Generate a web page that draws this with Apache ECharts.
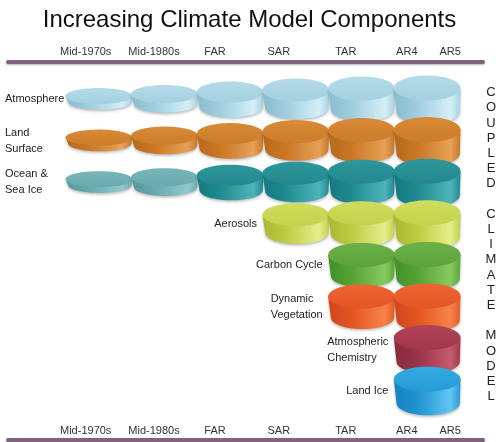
<!DOCTYPE html>
<html><head><meta charset="utf-8">
<script src="https://cdn.jsdelivr.net/npm/echarts@6/dist/echarts.min.js"></script>
<style>html,body{margin:0;padding:0;background:#fff}#c{width:499px;height:442px}</style>
</head><body><div id="c"></div>
<script>
// ---- data ----
const periods = ['Mid-1970s', 'Mid-1980s', 'FAR', 'SAR', 'TAR', 'AR4', 'AR5'];
const periodTicks = [0.30, 1.34, 2.27, 3.24, 4.26, 5.19, 5.85];
const stages = ['Mid-1970s', 'Mid-1980s', 'FAR', 'SAR', 'TAR', 'AR4/AR5'];
const components = ['Atmosphere', 'Land Surface', 'Ocean & Sea Ice', 'Aerosols', 'Carbon Cycle',
  'Dynamic Vegetation', 'Atmospheric Chemistry', 'Land Ice'];
const componentLabels = ['Atmosphere', 'Land\nSurface', 'Ocean &\nSea Ice', 'Aerosols', 'Carbon Cycle',
  'Dynamic\nVegetation', 'Atmospheric\nChemistry', 'Land Ice'];
const componentStart = [0, 0, 0, 3, 4, 4, 5, 5];
const simpleOceanStages = [0, 1];
const sideWords = ['COUPLED', 'CLIMATE', 'MODEL'];
const title = 'Increasing Climate Model Components';

// ---- styles ----
const FONT = '"Liberation Sans", Arial, sans-serif';
const geom = { ry: [8, 9, 10.5, 11.5, 12, 12.5], side: [6, 10, 15, 18, 21, 24], dy: [0, -2, -4, -6, -7.5, -8] };
const palettes = {
  atm:   { top: ['#b4dce8', '#a3d0df'], side: ['#88bccf', '#9fcddd', '#d4eff7', '#a6d2e1'] },
  land:  { top: ['#d98a36', '#cc7c2a'], side: ['#b8681b', '#c97826', '#e7a055', '#c87828'] },
  oceanPale: { top: ['#78b6b8', '#68aaad'], side: ['#559a9e', '#67a9ac', '#8fcacb', '#6aabae'] },
  ocean: { top: ['#2c979c', '#23888e'], side: ['#157a82', '#1f8a90', '#4db5b9', '#22888e'] },
  aer:   { top: ['#d0dc5e', '#c3d24c'], side: ['#a8b832', '#bccb40', '#e6ee8c', '#c2d046'] },
  carbon:{ top: ['#6ab246', '#5aa23a'], side: ['#43902a', '#55a234', '#86ca5f', '#5aa53a'] },
  veg:   { top: ['#ee6632', '#e45524'], side: ['#d2451b', '#e25522', '#f8824a', '#e55a26'] },
  chem:  { top: ['#b04459', '#a1364b'], side: ['#872a3e', '#9a3348', '#c45a6e', '#a03a4e'] },
  ice:   { top: ['#35a9e0', '#259bd6'], side: ['#1583c4', '#1f92d0', '#62c6f2', '#2a9ad6'] }
};
const rowPalette = ['atm', 'land', 'ocean', 'aer', 'carbon', 'veg', 'chem', 'ice'];

function lin(x2, y2, stops) {
  return { type: 'linear', x: 0, y: 0, x2: x2, y2: y2,
    colorStops: stops.map((c, i) => ({ offset: stops.length === 4 ? [0, 0.35, 0.85, 1][i] : i / (stops.length - 1), color: c })) };
}

const cylData = [];
components.forEach((c, r) => {
  for (let s = componentStart[r]; s < stages.length; s++) cylData.push([s, r]);
});
const labelData = components.map((c, r) => [componentStart[r], r]);

function cylGeom(api, s, r) {
  const p0 = api.coord([s, r]), p1 = api.coord([s + 1, r]);
  const cx = (p0[0] + p1[0]) / 2, rx = (p1[0] - p0[0]) / 2 + 0.5;
  const ry = geom.ry[s], side = geom.side[s];
  const cy = p0[1] + geom.dy[s];
  return { left: p0[0], cx, rx, ry, side, cy };
}

function renderCyl(params, api) {
  const s = api.value(0), r = api.value(1);
  const g = cylGeom(api, s, r);
  let key = rowPalette[r];
  if (key === 'ocean' && simpleOceanStages.indexOf(s) >= 0) key = 'oceanPale';
  const pal = palettes[key];
  const rxb = g.rx * 0.95, cxb = g.cx + g.rx * 0.03, cyb = g.cy + g.side, ryb = g.ry * 0.97;
  const N = 40;
  const sidePts = [[g.cx - g.rx, g.cy]];
  for (let i = 0; i <= N; i++) {
    const t = Math.PI * i / N;
    sidePts.push([cxb - rxb * Math.cos(t), cyb + ryb * Math.sin(t)]);
  }
  sidePts.push([g.cx + g.rx, g.cy]);
  const topPts = [];
  for (let i = 0; i < 2 * N; i++) {
    const t = Math.PI * i / N;
    topPts.push([g.cx + g.rx * Math.cos(t), g.cy + g.ry * Math.sin(t)]);
  }
  return {
    type: 'group',
    children: [
      { type: 'polygon', shape: { points: sidePts },
        style: { fill: lin(1, 0, pal.side), shadowBlur: 3, shadowColor: 'rgba(0,0,0,0.28)', shadowOffsetY: 1.5 } },
      { type: 'polygon', shape: { points: topPts }, style: { fill: lin(0, 1, pal.top) } }
    ]
  };
}

const mctx = document.createElement('canvas').getContext('2d');
mctx.font = '11px ' + FONT;
function textWidth(t) { return Math.max.apply(null, t.split('\n').map(l => mctx.measureText(l).width)); }

function renderLabel(params, api) {
  const s = api.value(0), r = api.value(1);
  const g = cylGeom(api, s, r);
  const txt = componentLabels[r];
  const x = s === 0 ? 5 : g.left - 6 - textWidth(txt);
  return {
    type: 'text', x: x, y: g.cy + g.side / 2,
    style: { text: txt, fill: '#222', fontSize: 11, fontFamily: FONT, align: 'left', verticalAlign: 'middle', lineHeight: 16 }
  };
}

function periodFormatter(v) {
  let best = 0, bd = Infinity;
  periodTicks.forEach((t, i) => { const d = Math.abs(t - v); if (d < bd) { bd = d; best = i; } });
  return periods[best];
}

const axisCommon = {
  type: 'value', min: -0.883, max: 6.35,
  axisLine: { show: true, onZero: false, lineStyle: { color: '#7f637f', width: 4, cap: 'round', shadowColor: 'rgba(0,0,0,0.3)', shadowBlur: 2, shadowOffsetY: 1 } },
  axisTick: { show: false }, splitLine: { show: false }
};

const chart = echarts.init(document.getElementById('c'), null, { renderer: 'canvas' });
chart.setOption({
  animation: false,
  title: { text: title, left: 'center', top: 3, textStyle: { fontSize: 24, fontWeight: 'normal', color: '#111', fontFamily: FONT } },
  grid: { left: 8, right: 16, top: 62, bottom: 2 },
  xAxis: [
    Object.assign({}, axisCommon, { position: 'top',
      axisLabel: { customValues: periodTicks, formatter: periodFormatter, margin: 5, fontSize: 11, color: '#333', fontFamily: FONT } }),
    Object.assign({}, axisCommon, { position: 'bottom',
      axisLabel: { customValues: periodTicks, formatter: periodFormatter, inside: true, margin: 4, fontSize: 11, color: '#333', fontFamily: FONT } })
  ],
  yAxis: { type: 'value', inverse: true, min: -0.817, max: 8.27, show: false },
  graphic: [{
    type: 'text', x: 491, y: 85,
    style: { text: sideWords.map(w => w.split('').join('\n')).join('\n\n'), fill: '#222', fontSize: 13, fontFamily: FONT, lineHeight: 15.2, align: 'center', verticalAlign: 'top' }
  }],
  series: [
    { type: 'custom', xAxisIndex: 0, yAxisIndex: 0, renderItem: renderCyl, data: cylData, clip: false },
    { type: 'custom', xAxisIndex: 0, yAxisIndex: 0, renderItem: renderLabel, data: labelData, clip: false }
  ]
});
</script>
</body></html>
